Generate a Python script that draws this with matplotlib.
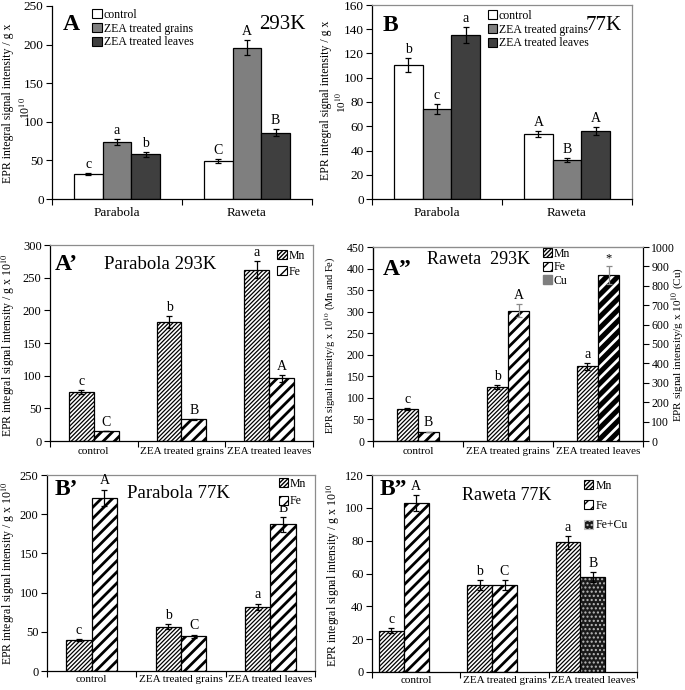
"""
EPR signal intensity panels (A, B, A', A'', B', B'') redrawn with matplotlib.
"""

import matplotlib
matplotlib.use("Agg")
import matplotlib as mpl
import matplotlib.pyplot as plt
from matplotlib.patches import Patch
import numpy as np

plt.rcParams["font.family"] = ["Liberation Serif", "DejaVu Serif"]
plt.rcParams["mathtext.fontset"] = "stix"

# ---- data -------------------------------------------------------------
cultivars = ["Parabola", "Raweta"]
treatments = ["control", "ZEA treated grains", "ZEA treated leaves"]

# panel A, 293K (per cultivar)
a_control = [32, 49]
a_grains = [74, 196]
a_leaves = [58, 86]
a_control_err = [1.5, 2.5]
a_grains_err = [3.5, 10]
a_leaves_err = [3, 4.5]
a_letters = [["c", "a", "b"], ["C", "A", "B"]]

# panel B, 77K
b_control = [110.5, 53.5]
b_grains = [74.5, 32]
b_leaves = [135.5, 56]
b_control_err = [5.5, 2.5]
b_grains_err = [4, 1.5]
b_leaves_err = [6.5, 3]
b_letters = [["b", "c", "a"], ["A", "B", "A"]]

# panel A' Parabola 293K (per treatment)
a1_mn = [75, 182, 262]
a1_fe = [15, 33, 96]
a1_mn_err = [3, 9.5, 13]
a1_fe_err = [0, 1, 5]
a1_mn_letters = ["c", "b", "a"]
a1_fe_letters = ["C", "B", "A"]

# panel A'' Raweta 293K
a2_mn = [75, 125, 173]
a2_fe = [22, 302]
a2_cu = 855
a2_mn_err = [2, 5, 8]
a2_fe_err = [0, 15]
a2_cu_err = 45
a2_mn_letters = ["c", "b", "a"]
a2_fe_letters = ["B", "A"]

# panel B' Parabola 77K
b1_mn = [39.5, 56.5, 82]
b1_fe = [221, 44.5, 187]
b1_mn_err = [1.5, 3, 4]
b1_fe_err = [10.5, 2, 9.5]
b1_mn_letters = ["c", "b", "a"]
b1_fe_letters = ["A", "C", "B"]

# panel B'' Raweta 77K
b2_mn = [25, 53, 79]
b2_fe = [103, 53, 58]
b2_mn_err = [1.5, 3, 4]
b2_fe_err = [5, 3, 3]
b2_mn_letters = ["c", "b", "a"]
b2_fe_letters = ["A", "C", "B"]

# ---- styles -----------------------------------------------------------
W, H = 685, 690
GRAY_FRAME = "#8c8c8c"
MN = dict(facecolor="white", edgecolor="black", hatch="////////", hlw=0.9)
FE = dict(facecolor="white", edgecolor="black", hatch="///", hlw=2.0)


def px_rect(left, top, right, bottom):
    return [left / W, 1 - bottom / H, (right - left) / W, (bottom - top) / H]


def hbar(ax, x, h, width, style, **kw):
    with mpl.rc_context({"hatch.linewidth": style["hlw"]}):
        bars = ax.bar(x, h, width, facecolor=style["facecolor"],
                      edgecolor=style["edgecolor"], hatch=style["hatch"],
                      linewidth=0.9, **kw)
    return bars


def hpatch(style, label):
    with mpl.rc_context({"hatch.linewidth": style["hlw"]}):
        p = Patch(facecolor=style["facecolor"], edgecolor=style["edgecolor"],
                  hatch=style["hatch"], linewidth=0.8, label=label)
    return p


def errs(ax, x, y, e, color="black"):
    ax.errorbar(x, y, yerr=e, fmt="none", ecolor=color, elinewidth=0.9,
                capsize=2.5, capthick=0.9)


def letters(ax, x, y, e, labs, size=10):
    for xi, yi, ei, lab in zip(x, y, e, labs):
        ax.annotate(lab, (xi, yi + ei), xytext=(0, 1.5),
                    textcoords="offset points", ha="center", va="bottom",
                    fontsize=size)


def frame(ax, ngroups, box=True, labsize=8):
    ax.set_xlim(-0.5, ngroups - 0.5)
    ax.set_xticks(np.arange(ngroups + 1) - 0.5)
    ax.set_xticklabels([])
    ax.tick_params(axis="x", which="major", direction="out", length=4,
                   width=0.8)
    ax.tick_params(axis="y", direction="out", length=4, width=0.8,
                   labelsize=labsize, pad=2)
    ax.spines["left"].set_linewidth(0.9)
    ax.spines["bottom"].set_linewidth(0.9)
    if box:
        for s in ("top", "right"):
            ax.spines[s].set_color(GRAY_FRAME)
            ax.spines[s].set_linewidth(0.9)
    else:
        ax.spines["top"].set_visible(False)
        ax.spines["right"].set_visible(False)


def cat_labels(ax, labels, size, pad=6):
    ax.set_xticks(np.arange(len(labels)), minor=True)
    ax.set_xticklabels(labels, minor=True, fontsize=size)
    ax.tick_params(axis="x", which="minor", length=0, pad=pad)


def legend(ax, handles, anchor, size=8, spacing=0.3):
    ax.legend(handles=handles, loc="upper left", bbox_to_anchor=anchor,
              frameon=False, fontsize=size, handlelength=0.8,
              handleheight=0.8, handletextpad=0.15, borderpad=0,
              borderaxespad=0, labelspacing=spacing)


fig = plt.figure(figsize=(W / 100, H / 100), dpi=100)

# ---- A : 293K ---------------------------------------------------------
axA = fig.add_axes(px_rect(52, 6, 312, 199))
x = np.arange(len(cultivars))
w = 0.22
shades = ["white", "#7f7f7f", "#3f3f3f"]
series = [(a_control, a_control_err), (a_grains, a_grains_err),
          (a_leaves, a_leaves_err)]
for i, (vals, ev) in enumerate(series):
    xi = x + (i - 1) * w
    axA.bar(xi, vals, w, color=shades[i], edgecolor="black", linewidth=0.9,
            label=treatments[i])
    errs(axA, xi, vals, ev)
    letters(axA, xi, vals, ev, [g[i] for g in a_letters])
axA.set_ylim(0, 250)
axA.set_yticks(np.arange(0, 251, 50))
frame(axA, 2, box=False, labsize=9.5)
cat_labels(axA, cultivars, 9.5)
legend(axA, [Patch(facecolor=c, edgecolor="black", linewidth=0.8, label=t)
             for c, t in zip(shades, treatments)], (0.155, 0.985), size=8.5,
       spacing=0.15)
axA.text(0.04, 0.905, "A", transform=axA.transAxes, fontsize=17,
         fontweight="bold", va="center")
axA.text(0.975, 0.905, "293K", transform=axA.transAxes, fontsize=15,
         va="center", ha="right")

# ---- B : 77K ----------------------------------------------------------
axB = fig.add_axes(px_rect(372, 5, 632, 199))
series = [(b_control, b_control_err), (b_grains, b_grains_err),
          (b_leaves, b_leaves_err)]
for i, (vals, ev) in enumerate(series):
    xi = x + (i - 1) * w
    axB.bar(xi, vals, w, color=shades[i], edgecolor="black", linewidth=0.9)
    errs(axB, xi, vals, ev)
    letters(axB, xi, vals, ev, [g[i] for g in b_letters])
axB.set_ylim(0, 160)
axB.set_yticks(np.arange(0, 161, 20))
frame(axB, 2, box=True, labsize=9.5)
cat_labels(axB, cultivars, 9.5)
legend(axB, [Patch(facecolor=c, edgecolor="black", linewidth=0.8, label=t)
             for c, t in zip(shades, treatments)], (0.445, 0.975), size=8.5,
       spacing=0.15)
axB.text(0.04, 0.895, "B", transform=axB.transAxes, fontsize=17,
         fontweight="bold", va="center")
axB.text(0.962, 0.895, "77K", transform=axB.transAxes, fontsize=15,
         va="center", ha="right")

# ---- A' : Parabola 293K -----------------------------------------------
x3 = np.arange(len(treatments))
w2 = 0.285
axA1 = fig.add_axes(px_rect(50, 245, 313, 441))
hbar(axA1, x3 - w2 / 2, a1_mn, w2, MN)
hbar(axA1, x3 + w2 / 2, a1_fe, w2, FE)
errs(axA1, x3 - w2 / 2, a1_mn, a1_mn_err)
errs(axA1, x3 + w2 / 2, a1_fe, a1_fe_err)
letters(axA1, x3 - w2 / 2, a1_mn, a1_mn_err, a1_mn_letters)
letters(axA1, x3 + w2 / 2, a1_fe, a1_fe_err, a1_fe_letters)
axA1.set_ylim(0, 300)
axA1.set_yticks(np.arange(0, 301, 50))
frame(axA1, 3, labsize=9)
cat_labels(axA1, treatments, 8, pad=4)
legend(axA1, [hpatch(MN, "Mn"), hpatch(FE, "Fe")], (0.865, 0.975),
       size=8.5, spacing=0.35)
axA1.text(0.02, 0.9, "A\u2019", transform=axA1.transAxes, fontsize=17,
          fontweight="bold", va="center")
axA1.text(0.205, 0.9, "Parabola 293K", transform=axA1.transAxes,
          fontsize=13.5, va="center")

# ---- A'' : Raweta 293K ------------------------------------------------
w3 = 0.235
axA2 = fig.add_axes(px_rect(373, 247, 643, 441))
hbar(axA2, x3 - w3 / 2, a2_mn, w3, MN)
xfe = x3[:2] + w3 / 2
hbar(axA2, xfe, a2_fe, w3, FE)
errs(axA2, x3 - w3 / 2, a2_mn, a2_mn_err)
errs(axA2, xfe, a2_fe, a2_fe_err, color="#8a8a8a")
letters(axA2, x3 - w3 / 2, a2_mn, a2_mn_err, a2_mn_letters)
letters(axA2, xfe, a2_fe, a2_fe_err, a2_fe_letters)
axA2.set_ylim(0, 450)
axA2.set_yticks(np.arange(0, 451, 50))
frame(axA2, 3, labsize=8.5)
cat_labels(axA2, treatments, 8, pad=4)
axA2b = axA2.twinx()
xcu = x3[2] + w3 / 2
with mpl.rc_context({"hatch.linewidth": 2.0}):
    axA2b.bar(xcu, a2_cu, w3, facecolor="black", edgecolor="white",
              hatch="///", linewidth=0)
axA2b.bar(xcu, a2_cu, w3, fill=False, edgecolor="black", linewidth=0.9)
errs(axA2b, [xcu], [a2_cu], [a2_cu_err], color="#8a8a8a")
letters(axA2b, [xcu], [a2_cu], [a2_cu_err], ["*"], size=9)
axA2b.set_ylim(0, 1000)
axA2b.set_yticks(np.arange(0, 1001, 100))
axA2b.tick_params(axis="y", direction="out", length=4, width=0.8,
                  labelsize=8.5, pad=2)
axA2b.spines["top"].set_color(GRAY_FRAME)
legend(axA2, [hpatch(MN, "Mn"), hpatch(FE, "Fe"),
              Patch(facecolor="#7f7f7f", edgecolor="#7f7f7f", label="Cu")],
       (0.628, 0.995), size=8.5, spacing=0.12)
axA2.text(0.035, 0.885, "A\u201d", transform=axA2.transAxes, fontsize=17,
          fontweight="bold", va="center")
axA2.text(0.2, 0.935, "Raweta  293K", transform=axA2.transAxes,
          fontsize=13, va="center")

# ---- B' : Parabola 77K ------------------------------------------------
axB1 = fig.add_axes(px_rect(47, 475, 315, 671))
hbar(axB1, x3 - w2 / 2, b1_mn, w2, MN)
hbar(axB1, x3 + w2 / 2, b1_fe, w2, FE)
errs(axB1, x3 - w2 / 2, b1_mn, b1_mn_err)
errs(axB1, x3 + w2 / 2, b1_fe, b1_fe_err)
letters(axB1, x3 - w2 / 2, b1_mn, b1_mn_err, b1_mn_letters)
letters(axB1, x3 + w2 / 2, b1_fe, b1_fe_err, b1_fe_letters)
axB1.set_ylim(0, 250)
axB1.set_yticks(np.arange(0, 251, 50))
frame(axB1, 3, labsize=9)
cat_labels(axB1, treatments, 8, pad=3)
legend(axB1, [hpatch(MN, "Mn"), hpatch(FE, "Fe")], (0.865, 0.985),
       size=8.5, spacing=0.45)
axB1.text(0.03, 0.925, "B\u2019", transform=axB1.transAxes, fontsize=17,
          fontweight="bold", va="center")
axB1.text(0.3, 0.905, "Parabola 77K", transform=axB1.transAxes,
          fontsize=13.5, va="center")

# ---- B'' : Raweta 77K -------------------------------------------------
# bars here sit left of the group centre (Mn at -w, Fe at 0)
axB2 = fig.add_axes(px_rect(372, 475, 637, 672))
w4 = 0.28
xmn = x3 - w4
xfe2 = x3.astype(float)
hbar(axB2, xmn, b2_mn, w4, MN)
hbar(axB2, xfe2[:2], b2_fe[:2], w4, FE)
with mpl.rc_context({"hatch.linewidth": 1.0}):
    axB2.bar(xfe2[2], b2_fe[2], w4, facecolor="#1a1a1a",
             edgecolor="#bbbbbb", hatch="....", linewidth=0)
axB2.bar(xfe2[2], b2_fe[2], w4, fill=False, edgecolor="black",
         linewidth=0.9)
errs(axB2, xmn, b2_mn, b2_mn_err)
errs(axB2, xfe2, b2_fe, b2_fe_err)
letters(axB2, xmn, b2_mn, b2_mn_err, b2_mn_letters)
letters(axB2, xfe2, b2_fe, b2_fe_err, b2_fe_letters)
axB2.set_ylim(0, 120)
axB2.set_yticks(np.arange(0, 121, 20))
frame(axB2, 3, labsize=9)
cat_labels(axB2, treatments, 8, pad=3)
with mpl.rc_context({"hatch.linewidth": 1.0}):
    fecu = Patch(facecolor="#1a1a1a", edgecolor="#bbbbbb", hatch="....",
                 linewidth=0.8, label="Fe+Cu")
legend(axB2, [hpatch(MN, "Mn"), hpatch(FE, "Fe"), fecu], (0.8, 0.975),
       size=8.5, spacing=0.65)
axB2.text(0.03, 0.925, "B\u201d", transform=axB2.transAxes, fontsize=17,
          fontweight="bold", va="center")
axB2.text(0.34, 0.895, "Raweta 77K", transform=axB2.transAxes,
          fontsize=13, va="center")

# ---- axis titles ------------------------------------------------------
def ylab(xp, yp, s, size=8.5):
    fig.text(xp / W, 1 - yp / H, s, rotation=90, ha="center", va="center",
             fontsize=size)


first_line = "EPR integral signal intensity / g x"
exp_line = "10$^{10}$"
one_line = "EPR integral signal intensity / g x 10$^{10}$"
ylab(8, 103, first_line)
ylab(26, 108, exp_line)
ylab(326, 100, first_line)
ylab(341, 103, exp_line, size=8)
ylab(8, 345, one_line)
ylab(330, 345, "EPR signal intensity/g x 10$^{10}$ (Mn and Fe)", size=7.5)
ylab(677, 345, "EPR signal intensity/g x 10$^{10}$ (Cu)", size=8)
ylab(8, 573, one_line)
ylab(333, 575, one_line)

fig.savefig("out.png", dpi=100)
